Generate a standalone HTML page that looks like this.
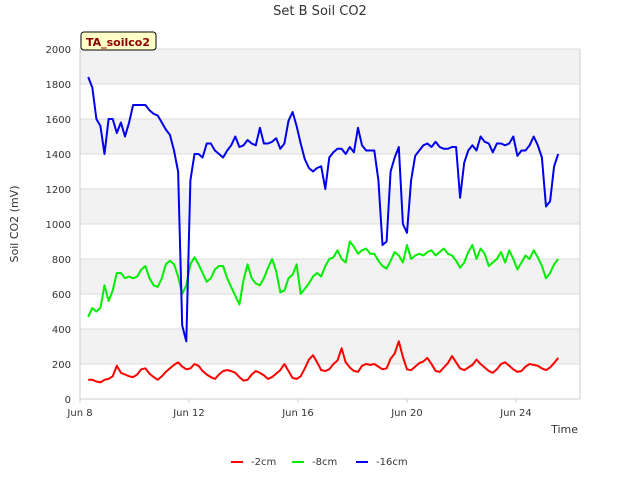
<!DOCTYPE html>
<html><head><meta charset="utf-8"><style>
body{margin:0;background:#fff;font-family:"Liberation Sans","DejaVu Sans",sans-serif;}
svg text{font-family:"DejaVu Sans","Liberation Sans",sans-serif;}
</style></head><body>
<svg id="chart" width="640" height="480" viewBox="0 0 640 480" xmlns="http://www.w3.org/2000/svg">
<text x="320" y="15" text-anchor="middle" font-size="13" fill="#333">Set B Soil CO2</text>
<g id="grid"></g>
<g id="axes"></g>
<g id="series"></g>
<text transform="translate(18,224) rotate(-90)" text-anchor="middle" font-size="11" fill="#333">Soil CO2 (mV)</text>
<text x="578" y="433" text-anchor="end" font-size="11" fill="#333">Time</text>
<g>
<rect x="81" y="32" width="75" height="18" rx="3" fill="#ffffc8" stroke="#000" stroke-width="1"/>
<text x="118" y="46" text-anchor="middle" font-size="11" font-weight="bold" fill="#8b0000">TA_soilco2</text>
</g>
<g id="legend"></g>
</svg>
<script>
const startDay = 8.3;
const stepDay = 0.15;
const yTicks = [0,200,400,600,800,1000,1200,1400,1600,1800,2000];
const xTickDays = [8,12,16,20,24];
const xTickLabels = ["Jun 8","Jun 12","Jun 16","Jun 20","Jun 24"];
const seriesNames = ["-2cm","-8cm","-16cm"];
const seriesColors = ["#ff0000","#00ee00","#0000ee"];
const red = [110,110,100,95,110,115,130,190,150,140,130,125,140,170,175,145,125,110,130,155,175,195,210,185,170,175,200,190,160,140,125,115,140,160,165,160,150,125,105,110,140,160,150,135,115,125,145,165,200,160,120,115,130,175,225,250,210,165,160,170,200,220,290,210,180,160,155,190,200,195,200,185,170,175,230,260,330,240,170,165,185,205,215,235,200,160,155,180,205,245,210,175,165,180,195,225,200,180,160,150,170,200,210,190,170,155,160,185,200,195,190,175,165,180,205,235];
const green = [470,520,500,520,650,560,620,720,720,690,700,690,700,740,760,690,650,640,690,770,790,770,700,600,650,770,810,770,720,670,690,740,760,760,690,640,590,540,680,770,690,660,650,690,750,800,730,610,620,690,710,770,600,630,660,700,720,700,760,800,810,850,800,780,900,870,830,850,860,830,830,790,760,745,790,840,820,780,880,800,820,830,820,840,850,820,840,860,830,820,790,750,780,840,880,800,860,830,760,780,800,840,780,850,800,740,780,820,800,850,810,760,690,720,770,800];
const blue = [1840,1780,1600,1560,1400,1600,1600,1520,1580,1500,1580,1680,1680,1680,1680,1650,1630,1620,1580,1540,1510,1420,1300,420,330,1250,1400,1400,1380,1460,1460,1420,1400,1380,1420,1450,1500,1440,1450,1480,1460,1450,1550,1460,1460,1470,1490,1430,1460,1590,1640,1560,1460,1370,1320,1300,1320,1330,1200,1380,1410,1430,1430,1400,1440,1410,1550,1450,1420,1420,1420,1250,880,900,1300,1380,1440,1000,950,1250,1390,1420,1450,1460,1440,1470,1440,1430,1430,1440,1440,1150,1350,1420,1450,1420,1500,1470,1460,1410,1460,1460,1450,1460,1500,1390,1420,1420,1450,1500,1450,1380,1100,1130,1330,1400];
const seriesData = [red, green, blue];

const NS = "http://www.w3.org/2000/svg";
const L=80,R=580,T=49,B=399;
function xs(d){return L+(d-8)*27.25;}
function ys(v){return B-(v/2000)*(B-T);}
function mk(tag,attrs,parent){const e=document.createElementNS(NS,tag);for(const k in attrs)e.setAttribute(k,attrs[k]);parent.appendChild(e);return e;}
const grid=document.getElementById('grid'), axes=document.getElementById('axes'), ser=document.getElementById('series'), leg=document.getElementById('legend');
mk('rect',{x:L,y:T,width:R-L,height:B-T,fill:'#fff'},grid);
for(let i=0;i<yTicks.length-1;i++){
  if(i%2===1){const r=mk('rect',{x:L,y:ys(yTicks[i+1]),width:R-L,height:ys(yTicks[i])-ys(yTicks[i+1]),fill:'#f2f2f2'},grid);
  
  }
}
yTicks.forEach(v=>{
  const ln=mk('line',{x1:L,x2:R,y1:ys(v),y2:ys(v),stroke:'#dcdcdc','stroke-width':1},grid);
  
  
  const t=mk('text',{x:L-9,y:ys(v)+4,'text-anchor':'end','font-size':10,fill:'#333'},axes);
  t.textContent=v;
  
  
});
mk('line',{x1:L,x2:L,y1:T,y2:B,stroke:'#ccc'},axes);
mk('line',{x1:R,x2:R,y1:T,y2:B,stroke:'#ccc'},axes);
mk('line',{x1:L,x2:R,y1:B,y2:B,stroke:'#ccc'},axes);
xTickDays.forEach((d,i)=>{
  mk('line',{x1:xs(d),x2:xs(d),y1:B,y2:B+4,stroke:'#ccc'},axes);
  const t=mk('text',{x:xs(d),y:B+17,'text-anchor':'middle','font-size':10,fill:'#333'},axes);
  t.textContent=xTickLabels[i];
  
  
});
seriesData.forEach((arr,si)=>{
  const pts=arr.map((v,i)=>xs(startDay+i*stepDay).toFixed(1)+','+ys(v).toFixed(1)).join(' ');
  const p=mk('polyline',{points:pts,fill:'none',stroke:seriesColors[si],'stroke-width':2,'stroke-linejoin':'round'},ser);
  
  
});
const legX=[231,292,356];
seriesNames.forEach((n,i)=>{
  const g=mk('g',{},leg);
  
  
  mk('line',{x1:legX[i],x2:legX[i]+12,y1:462,y2:462,stroke:seriesColors[i],'stroke-width':2},g);
  const t=mk('text',{x:legX[i]+20,y:465,'font-size':10,fill:'#333'},g);
  t.textContent=n;
});
</script>
</body></html>
